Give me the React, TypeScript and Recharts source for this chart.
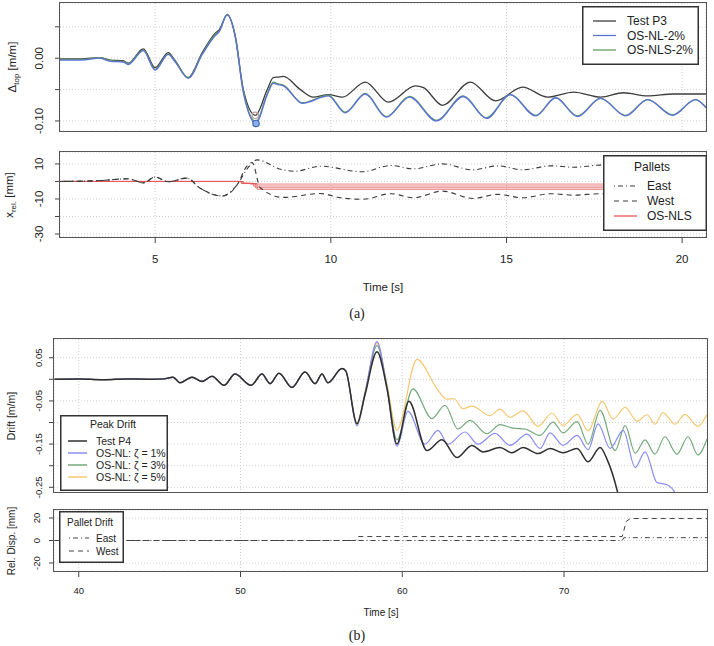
import React from "react";
import { ComposedChart, Line, XAxis, YAxis, CartesianGrid, ReferenceDot } from "recharts";

const FONT = "'Liberation Sans', Arial, Helvetica, sans-serif";

type Pt = [number, number];

// ---- (a) top: drift at top of rack, time [s] vs [m/m]
const P3_TEST: Pt[] = [
  [2.29, -0.001], [2.9, -0.001], [3.43, 0.001], [3.72, -0.003], [4.09, -0.004], [4.23, -0.008],
  [4.66, 0.015], [5.0, -0.015], [5.37, 0.009], [5.57, -0.004], [5.94, -0.031], [6.34, 0.009],
  [6.71, 0.04], [6.82, 0.045], [7.05, 0.069], [7.28, 0.035], [7.51, -0.05], [7.85, -0.091],
  [8.19, -0.05], [8.36, -0.031], [8.5, -0.03], [8.65, -0.029], [9.13, -0.05], [9.5, -0.062],
  [9.93, -0.058], [10.33, -0.062], [10.98, -0.038], [11.64, -0.07], [12.41, -0.044], [12.64, -0.047],
  [13.18, -0.075], [13.97, -0.038], [14.69, -0.068], [15.46, -0.046], [16.17, -0.062], [16.91, -0.054],
  [17.68, -0.062], [18.33, -0.055], [19.02, -0.06], [19.76, -0.057], [20.68, -0.057],
];
const P3_NL: Pt[] = [
  [2.29, -0.003], [2.9, -0.003], [3.43, 0.0], [3.72, -0.005], [4.09, -0.006], [4.23, -0.01],
  [4.66, 0.012], [5.0, -0.019], [5.37, 0.006], [5.57, -0.006], [5.94, -0.032], [6.34, 0.006],
  [6.71, 0.036], [6.82, 0.042], [7.05, 0.069], [7.28, 0.034], [7.51, -0.055], [7.87, -0.104],
  [8.19, -0.058], [8.36, -0.04], [8.5, -0.042], [8.65, -0.044], [9.19, -0.072], [9.93, -0.06],
  [10.41, -0.087], [10.98, -0.057], [11.58, -0.094], [12.24, -0.062], [13.01, -0.1], [13.77, -0.061],
  [14.43, -0.096], [15.11, -0.058], [15.83, -0.092], [16.4, -0.063], [17.02, -0.093], [17.68, -0.064],
  [18.39, -0.092], [19.02, -0.066], [19.73, -0.091], [20.38, -0.066], [20.68, -0.079],
];
const P3_NLS: Pt[] = [
  [2.29, -0.002], [2.9, -0.002], [3.43, 0.001], [3.72, -0.004], [4.09, -0.005], [4.23, -0.009],
  [4.66, 0.013], [5.0, -0.018], [5.37, 0.007], [5.57, -0.005], [5.94, -0.031], [6.34, 0.007],
  [6.71, 0.038], [6.82, 0.043], [7.05, 0.07], [7.28, 0.035], [7.51, -0.053], [7.87, -0.101],
  [8.19, -0.056], [8.36, -0.038], [8.5, -0.041], [8.65, -0.043], [9.19, -0.071], [9.93, -0.059],
  [10.41, -0.086], [10.98, -0.056], [11.58, -0.093], [12.24, -0.061], [13.01, -0.099], [13.77, -0.06],
  [14.43, -0.095], [15.11, -0.058], [15.83, -0.091], [16.4, -0.063], [17.02, -0.092], [17.68, -0.064],
  [18.39, -0.091], [19.02, -0.066], [19.73, -0.09], [20.38, -0.066], [20.68, -0.078],
];

// ---- (a) bottom: pallet sliding [mm]
const PALLET_EAST_A: Pt[] = [
  [2.29, 0], [3.43, 0.5], [4.23, 1.5], [4.66, -0.8], [5.0, 2.5], [5.37, -0.2], [5.9, 1.9],
  [6.26, -3.6], [6.91, -8.3], [7.34, -1.7], [7.65, 8], [7.9, 12.3], [8.6, 6.8], [8.97, 5.8],
  [9.7, 8.7], [10.9, 5.5], [11.7, 9.1], [12.35, 7.2], [13.18, 10], [14.04, 6.6], [14.75, 8.9],
  [15.46, 6.6], [16.26, 8.9], [16.91, 8.1], [17.68, 9.3], [20.68, 8.1],
];
const PALLET_WEST_A: Pt[] = [
  [2.29, 0], [3.43, 0.5], [4.23, 1.5], [4.66, -0.8], [5.0, 2.5], [5.37, -0.2], [5.9, 1.9],
  [6.26, -3.6], [6.91, -8.3], [7.34, -1.7], [7.6, 8.5], [7.76, 10.8], [7.99, -3.6], [8.65, -9.1],
  [9.7, -6.9], [10.27, -9.3], [10.93, -10.2], [11.7, -7], [12.35, -9.3], [13.18, -5.5], [14.04, -9.7],
  [14.75, -7.4], [15.46, -9.3], [16.26, -7], [16.91, -7.8], [17.68, -7], [20.68, -7.8],
];
const NLS_SLIP_1: Pt[] = [[2.29, 0], [7.45, -1], [7.7, -1.5], [20.68, -1.5]];
const NLS_SLIP_2: Pt[] = [[2.29, 0], [7.45, -1], [7.8, -2.6], [20.68, -2.6]];
const NLS_SLIP_3: Pt[] = [[2.29, 0], [7.5, -1.2], [7.85, -3.6], [20.68, -3.6]];
const NLS_SLIP_4: Pt[] = [[2.29, 0], [7.5, -1.2], [7.9, -4.5], [20.68, -4.5]];

// ---- (b) top: peak drift [m/m]
const P4_EARLY: Pt[] = [
  [38.5, 0], [40, 0.001], [41.5, -0.001], [43, 0.001], [44.5, 0], [45.3, 0.001], [45.83, 0.005],
  [46.26, -0.008], [47.0, 0.005], [47.62, -0.005], [48.24, 0.007], [48.98, -0.014], [49.66, 0.012],
  [50.65, -0.014], [51.33, 0.012], [51.83, -0.01], [52.38, 0.014], [53.18, -0.019], [53.99, 0.017],
  [54.61, -0.01], [55.04, 0.012], [55.41, -0.008], [56.27, 0.025], [56.5, 0.02],
];
const P4_TEST: Pt[] = [
  ...P4_EARLY,
  [57.2, -0.103], [57.69, -0.037], [58.44, 0.064], [59.05, -0.02], [59.67, -0.15], [60.41, -0.051],
  [61.53, -0.165], [62.45, -0.14], [63.38, -0.181], [64.31, -0.153], [64.99, -0.168], [66.04, -0.158],
  [66.79, -0.17], [67.47, -0.158], [68.4, -0.172], [69.14, -0.16], [69.94, -0.17], [70.81, -0.16],
  [71.49, -0.191], [72.23, -0.158], [72.67, -0.186], [73.29, -0.258], [73.6, -0.31],
];
const NL_ZETA1: Pt[] = [
  ...P4_EARLY,
  [57.2, -0.108], [57.69, -0.035], [58.44, 0.087], [59.05, -0.02], [59.67, -0.155], [60.35, -0.074],
  [61.4, -0.15], [62.21, -0.118], [62.83, -0.15], [63.88, -0.122], [64.68, -0.15], [65.73, -0.125],
  [66.66, -0.153], [67.72, -0.127], [68.52, -0.16], [69.14, -0.124], [69.94, -0.153], [70.81, -0.13],
  [71.49, -0.163], [72.11, -0.103], [72.85, -0.16], [73.66, -0.118], [74.4, -0.204], [75.01, -0.168],
  [75.75, -0.239], [76.37, -0.244], [76.86, -0.262], [77.3, -0.3],
];
const NL_ZETA3: Pt[] = [
  ...P4_EARLY,
  [57.2, -0.103], [57.69, -0.033], [58.44, 0.078], [59.05, -0.015], [59.67, -0.14], [60.66, -0.022],
  [61.84, -0.091], [62.64, -0.06], [63.44, -0.115], [64.19, -0.095], [65.24, -0.126], [66.04, -0.105],
  [66.85, -0.113], [67.6, -0.115], [68.52, -0.13], [69.32, -0.099], [69.94, -0.124], [70.81, -0.098],
  [71.49, -0.15], [72.23, -0.072], [73.16, -0.165], [73.78, -0.107], [74.4, -0.171], [75.01, -0.14],
  [75.62, -0.173], [76.24, -0.133], [76.98, -0.173], [77.67, -0.133], [78.28, -0.175], [78.84, -0.138],
];
const NL_ZETA5: Pt[] = [
  ...P4_EARLY,
  [57.2, -0.1], [57.69, -0.03], [58.44, 0.083], [59.05, -0.01], [59.67, -0.118], [60.91, 0.046],
  [62.15, -0.022], [62.76, -0.046], [63.2, -0.045], [63.75, -0.068], [64.31, -0.062], [65.42, -0.084],
  [66.04, -0.069], [66.66, -0.088], [67.47, -0.073], [68.4, -0.109], [69.26, -0.078], [69.94, -0.107],
  [70.81, -0.081], [71.49, -0.119], [72.36, -0.051], [73.04, -0.092], [73.78, -0.065], [74.52, -0.097],
  [75.13, -0.082], [75.62, -0.104], [76.12, -0.077], [76.86, -0.104], [77.48, -0.081], [78.28, -0.109],
  [78.84, -0.081],
];

// ---- (b) bottom: pallet drift [mm]
const PALLET_EAST_B: Pt[] = [[38.5, 0], [73.6, 0], [73.7, 2.5], [78.84, 2.5]];
const PALLET_WEST_B: Pt[] = [[38.5, 0], [57.1, 0], [57.25, 3.5], [73.6, 3.5], [73.85, 17], [74.1, 19.5], [78.84, 19.5]];

// axis ticks
const A_X_TICKS = [5, 10, 15, 20];
const A1_Y_TICKS = [-0.1, -0.05, 0, 0.05];
const A1_Y_LABELS = [-0.1, 0];
const A2_Y_TICKS = [-30, -20, -10, 0, 10];
const A2_Y_LABELS = [-30, -10, 10];
const B_X_TICKS = [40, 50, 60, 70];
const B1_Y_TICKS = [-0.25, -0.2, -0.15, -0.1, -0.05, 0, 0.05];
const B1_Y_LABELS = [-0.25, -0.15, -0.05, 0.05];
const B2_Y_TICKS = [-20, 0, 20];
const B2_Y_LABELS = [-20, 0, 20];

interface Series {
  name: string;
  data: Pt[];
  color: string;
  width?: number;
  dash?: string;
  step?: boolean;
  linear?: boolean;
  opacity?: number;
}

const A1_SERIES: Series[] = [
  { name: "Test P3", data: P3_TEST, color: "#3d3d3d", width: 1.3 },
  { name: "OS-NLS-2%", data: P3_NLS, color: "#62a062", width: 1.3 },
  { name: "OS-NL-2%", data: P3_NL, color: "#5a72d6", width: 1.3 },
];
const A2_SERIES: Series[] = [
  { name: "OS-NLS", data: NLS_SLIP_1, color: "#e85555", width: 1, step: true, opacity: 0.75 },
  { name: "OS-NLS", data: NLS_SLIP_2, color: "#e85555", width: 1, step: true, opacity: 0.75 },
  { name: "OS-NLS", data: NLS_SLIP_3, color: "#e85555", width: 1, step: true, opacity: 0.75 },
  { name: "OS-NLS", data: NLS_SLIP_4, color: "#e85555", width: 1, step: true, opacity: 0.75 },
  { name: "East", data: PALLET_EAST_A, color: "#3a3a3a", width: 1.1, dash: "1 3 5 3" },
  { name: "West", data: PALLET_WEST_A, color: "#3a3a3a", width: 1.1, dash: "5 4" },
];
const B1_SERIES: Series[] = [
  { name: "OS-NL: ζ = 5%", data: NL_ZETA5, color: "#f6c873", width: 1.2 },
  { name: "OS-NL: ζ = 3%", data: NL_ZETA3, color: "#74a97c", width: 1.2 },
  { name: "OS-NL: ζ = 1%", data: NL_ZETA1, color: "#8a8cf4", width: 1.2 },
  { name: "Test P4", data: P4_TEST, color: "#2f2f2f", width: 1.5 },
];
const B2_SERIES: Series[] = [
  { name: "East", data: PALLET_EAST_B, color: "#444", width: 1, dash: "1 3 5 3", linear: true },
  { name: "West", data: PALLET_WEST_B, color: "#444", width: 1, dash: "5 4", linear: true },
];

const rows = (a: Pt[]) => a.map(([t, v]) => ({ t, v }));
const lowest = (a: Pt[]) => a.reduce((m, p) => (p[1] < m[1] ? p : m));

function RotTick(props: any) {
  const { x, y, payload, labeled, digits, fontSize } = props;
  if (!labeled.includes(payload.value)) return <g />;
  return (
    <text
      x={x}
      y={y}
      transform={`rotate(-90 ${x} ${y})`}
      textAnchor="middle"
      fontSize={fontSize}
      fontFamily={FONT}
      fill="#222"
    >
      {Number(payload.value).toFixed(digits)}
    </text>
  );
}

interface PanelProps {
  top: number;
  height: number;
  left: number;
  plotTop: number;
  plotBottom: number;
  plotRight: number;
  xDomain: [number, number];
  xTicks: number[];
  showX: boolean;
  xTickMargin?: number;
  yDomain: [number, number];
  yTicks: number[];
  yLabels: number[];
  digits: number;
  yTickMargin: number;
  fontSize: number;
  series: Series[];
  peaks?: { data: Pt[]; stroke: string; fill: string }[];
}

function Panel(p: PanelProps) {
  const bottomSpace = p.top + p.height - p.plotBottom;
  return (
    <>
      <div style={{ position: "absolute", left: 0, top: p.top }}>
        <ComposedChart
          width={714}
          height={p.height}
          margin={{ top: p.plotTop - p.top, right: 714 - p.plotRight, bottom: p.showX ? 0 : bottomSpace, left: 0 }}
        >
          <CartesianGrid stroke="#cfcfcf" strokeDasharray="1 2" />
          <XAxis
            type="number"
            dataKey="t"
            domain={p.xDomain}
            ticks={p.xTicks}
            allowDataOverflow
            hide={!p.showX}
            height={p.showX ? bottomSpace : 0}
            axisLine={false}
            tickSize={6}
            tickMargin={p.xTickMargin}
            tickLine={{ stroke: "#444" }}
            tick={{ fill: "#222", fontSize: p.fontSize, fontFamily: FONT }}
            interval={0}
          />
          <YAxis
            type="number"
            domain={p.yDomain}
            ticks={p.yTicks}
            allowDataOverflow
            width={p.left}
            axisLine={false}
            tickSize={5}
            tickMargin={p.yTickMargin}
            tickLine={{ stroke: "#444" }}
            interval={0}
            tick={(tp: any) => <RotTick {...tp} labeled={p.yLabels} digits={p.digits} fontSize={p.fontSize} />}
          />
          {p.series.map((s, i) => (
            <Line
              key={i}
              data={rows(s.data)}
              dataKey="v"
              name={s.name}
              type={s.step ? "stepAfter" : s.linear ? "linear" : "monotone"}
              stroke={s.color}
              strokeWidth={s.width ?? 1.2}
              strokeDasharray={s.dash}
              strokeOpacity={s.opacity ?? 1}
              dot={false}
              activeDot={false}
              isAnimationActive={false}
            />
          ))}
          {(p.peaks ?? []).map((pk, i) => {
            const [t, v] = lowest(pk.data);
            return <ReferenceDot key={i} x={t} y={v} r={3.2} fill={pk.fill} stroke={pk.stroke} strokeWidth={1.2} />;
          })}
        </ComposedChart>
      </div>
      <div
        style={{
          position: "absolute",
          left: p.left - 0.75,
          top: p.plotTop - 0.75,
          width: p.plotRight - p.left + 1.5,
          height: p.plotBottom - p.plotTop + 1.5,
          border: "1.5px solid #555",
          boxSizing: "border-box",
          pointerEvents: "none",
        }}
      />
    </>
  );
}

interface LegendItem {
  label: string;
  color: string;
  dash?: string;
  width?: number;
}

function LegendBox(props: {
  left: number;
  top: number;
  width: number;
  height: number;
  title?: string;
  titleX?: number;
  titleY?: number;
  titleAnchor?: "start" | "middle";
  firstY: number;
  gap: number;
  lineX: [number, number];
  textX: number;
  fontSize: number;
  items: LegendItem[];
}) {
  const { left, top, width, height, items } = props;
  return (
    <svg style={{ position: "absolute", left, top }} width={width} height={height}>
      <rect x={0.75} y={0.75} width={width - 1.5} height={height - 1.5} fill="#fff" stroke="#333" strokeWidth={1.5} />
      {props.title && (
        <text
          x={props.titleX}
          y={props.titleY}
          textAnchor={props.titleAnchor ?? "middle"}
          dominantBaseline="central"
          fontSize={props.fontSize}
          fontFamily={FONT}
          fill="#222"
        >
          {props.title}
        </text>
      )}
      {items.map((it, i) => {
        const y = props.firstY + i * props.gap;
        return (
          <g key={i}>
            <line
              x1={props.lineX[0]}
              x2={props.lineX[1]}
              y1={y}
              y2={y}
              stroke={it.color}
              strokeWidth={it.width ?? 1.3}
              strokeDasharray={it.dash}
            />
            <text x={props.textX} y={y} dominantBaseline="central" fontSize={props.fontSize} fontFamily={FONT} fill="#222">
              {it.label}
            </text>
          </g>
        );
      })}
    </svg>
  );
}

function AxisTitle(props: { x: number; y: number; size: number; rotate?: boolean; serif?: boolean; children: React.ReactNode }) {
  return (
    <div
      style={{
        position: "absolute",
        left: props.x,
        top: props.y,
        transform: `translate(-50%, -50%)${props.rotate ? " rotate(-90deg)" : ""}`,
        whiteSpace: "nowrap",
        fontSize: props.size,
        fontFamily: props.serif ? "'Liberation Serif', 'Times New Roman', serif" : FONT,
        color: "#222",
        lineHeight: 1,
      }}
    >
      {props.children}
    </div>
  );
}

export default function App() {
  return (
    <div style={{ position: "absolute", left: 0, top: 0, width: 714, height: 646, background: "#fff", overflow: "hidden" }}>
      <Panel
        top={0}
        height={140}
        left={60}
        plotTop={3}
        plotBottom={131}
        plotRight={706}
        xDomain={[2.29, 20.68]}
        xTicks={A_X_TICKS}
        showX={false}
        yDomain={[-0.116, 0.088]}
        yTicks={A1_Y_TICKS}
        yLabels={A1_Y_LABELS}
        digits={2}
        yTickMargin={12}
        fontSize={11.5}
        series={A1_SERIES}
        peaks={[
          { data: P3_TEST, stroke: "#c49a9a", fill: "none" },
          { data: P3_NL, stroke: "#3a68c0", fill: "#8fb0e8" },
        ]}
      />
      <Panel
        top={140}
        height={130}
        left={60}
        plotTop={152}
        plotBottom={237}
        plotRight={706}
        xDomain={[2.29, 20.68]}
        xTicks={A_X_TICKS}
        showX
        xTickMargin={12}
        yDomain={[-31.7, 16.8]}
        yTicks={A2_Y_TICKS}
        yLabels={A2_Y_LABELS}
        digits={0}
        yTickMargin={12}
        fontSize={11.5}
        series={A2_SERIES}
      />
      <Panel
        top={330}
        height={170}
        left={54}
        plotTop={339}
        plotBottom={492.5}
        plotRight={707}
        xDomain={[38.47, 78.84]}
        xTicks={B_X_TICKS}
        showX={false}
        yDomain={[-0.262, 0.0933]}
        yTicks={B1_Y_TICKS}
        yLabels={B1_Y_LABELS}
        digits={2}
        yTickMargin={7}
        fontSize={9.5}
        series={B1_SERIES}
      />
      <Panel
        top={500}
        height={100}
        left={54}
        plotTop={510}
        plotBottom={571}
        plotRight={707}
        xDomain={[38.47, 78.84]}
        xTicks={B_X_TICKS}
        showX
        xTickMargin={10}
        yDomain={[-27.1, 27.1]}
        yTicks={B2_Y_TICKS}
        yLabels={B2_Y_LABELS}
        digits={0}
        yTickMargin={9}
        fontSize={9.5}
        series={B2_SERIES}
      />

      <AxisTitle x={14} y={67} size={11.5} rotate>
        Δ<sub style={{ fontSize: 8 }}>top</sub> [m/m]
      </AxisTitle>
      <AxisTitle x={11} y={194.5} size={11.5} rotate>
        x<sub style={{ fontSize: 8 }}>rel.</sub> [mm]
      </AxisTitle>
      <AxisTitle x={383} y={288} size={11.5}>Time [s]</AxisTitle>
      <AxisTitle x={357} y={314} size={14} serif>(a)</AxisTitle>
      <AxisTitle x={11} y={416} size={10.5} rotate>Drift [m/m]</AxisTitle>
      <AxisTitle x={12} y={541} size={10} rotate>Rel. Disp. [mm]</AxisTitle>
      <AxisTitle x={381} y={613} size={10}>Time [s]</AxisTitle>
      <AxisTitle x={357} y={636} size={14} serif>(b)</AxisTitle>

      <LegendBox
        left={582}
        top={6}
        width={117}
        height={59}
        firstY={15}
        gap={14.5}
        lineX={[11, 34]}
        textX={45}
        fontSize={12}
        items={[
          { label: A1_SERIES[0].name, color: A1_SERIES[0].color },
          { label: A1_SERIES[2].name, color: A1_SERIES[2].color },
          { label: A1_SERIES[1].name, color: A1_SERIES[1].color },
        ]}
      />
      <LegendBox
        left={603}
        top={155}
        width={104}
        height={76}
        title="Pallets"
        titleX={49}
        titleY={12}
        firstY={31}
        gap={15}
        lineX={[11, 34]}
        textX={44}
        fontSize={12}
        items={[
          { label: "East", color: "#3a3a3a", dash: "1 3 5 3", width: 1.1 },
          { label: "West", color: "#3a3a3a", dash: "5 4", width: 1.1 },
          { label: "OS-NLS", color: "#e85555" },
        ]}
      />
      <LegendBox
        left={60}
        top={415}
        width={108}
        height={76}
        title="Peak Drift"
        titleX={53}
        titleY={9}
        firstY={26}
        gap={12}
        lineX={[8, 27]}
        textX={36}
        fontSize={10.5}
        items={[...B1_SERIES].reverse().map((s) => ({ label: s.name, color: s.color, width: 1.5 }))}
      />
      <LegendBox
        left={59}
        top={511}
        width={65}
        height={52}
        title="Pallet Drift"
        titleX={8}
        titleY={11}
        titleAnchor="start"
        firstY={27}
        gap={13}
        lineX={[10, 30]}
        textX={37}
        fontSize={10}
        items={B2_SERIES.map((s) => ({ label: s.name, color: s.color, dash: s.dash, width: 1 }))}
      />
    </div>
  );
}
